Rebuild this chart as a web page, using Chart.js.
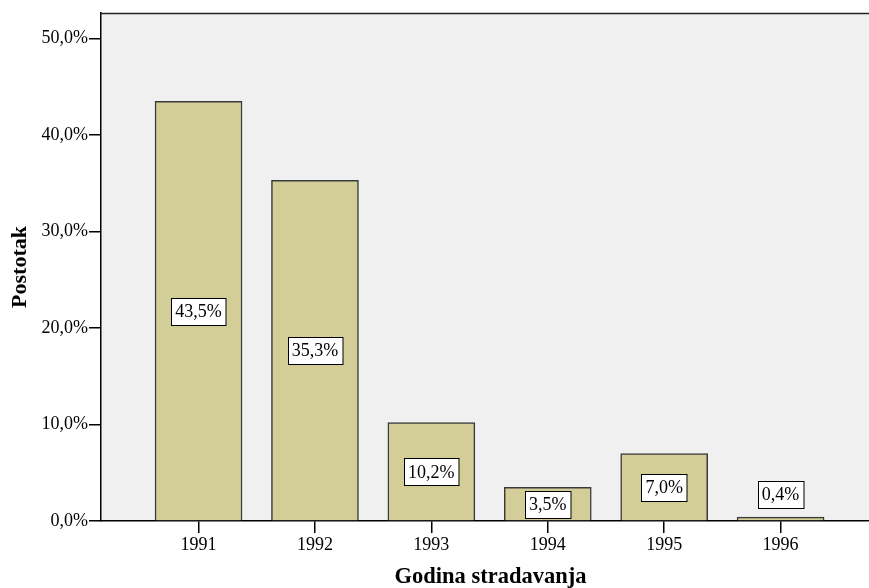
<!DOCTYPE html>
<html>
<head>
<meta charset="utf-8">
<script src="https://cdn.jsdelivr.net/npm/chart.js@4/dist/chart.umd.min.js"></script>
<style>
  html, body { margin: 0; padding: 0; background: #fff; overflow: hidden; }
  #wrap { width: 880px; height: 588px; }
</style>
</head>
<body>
<div id="wrap"><canvas id="chart"></canvas></div>
<script>
// --- Data ---
const godine = [1991, 1992, 1993, 1994, 1995, 1996];
const postotak = [43.5, 35.3, 10.2, 3.5, 7.0, 0.4];
const yTicks = [0, 10, 20, 30, 40, 50];

const SERIF = '"Liberation Serif", "DejaVu Serif", serif';

function fmt(v) {
    return v.toFixed(1).replace('.', ',') + '%';
}

// pozadina i okvir plota
const plotBox = {
    id: 'plotBox',
    beforeDraw(chart) {
        const { ctx, chartArea: a } = chart;
        ctx.save();
        ctx.fillStyle = '#f0f0f0';
        ctx.fillRect(a.left, a.top, a.right - a.left, a.bottom - a.top);
        ctx.restore();
    },
    afterDraw(chart) {
        const { ctx, chartArea: a } = chart;
        ctx.save();
        ctx.strokeStyle = '#222';
        ctx.lineWidth = 1.5;
        ctx.beginPath();
        ctx.moveTo(a.left, a.top + 0.5);
        ctx.lineTo(a.right, a.top + 0.5);
        ctx.stroke();
        ctx.restore();
    }
};

// oznake vrijednosti u bijelim kutijama
const valueLabels = {
    id: 'valueLabels',
    afterDatasetsDraw(chart) {
        const { ctx } = chart;
        const y = chart.scales.y;
        const meta = chart.getDatasetMeta(0);
        ctx.save();
        ctx.font = '18px ' + SERIF;
        ctx.textAlign = 'center';
        ctx.textBaseline = 'middle';
        meta.data.forEach((bar, i) => {
            const v = postotak[i];
            const txt = fmt(v);
            const base = y.getPixelForValue(0);
            const top = y.getPixelForValue(v);
            let cy = y.getPixelForValue(v / 2);
            if (base - top < 30) cy = top - 22.5;
            const w = ctx.measureText(txt).width + 8;
            const h = 27;
            const x0 = Math.round(bar.x - w / 2) + 0.5;
            const y0 = Math.round(cy - h / 2) + 0.5;
            ctx.fillStyle = '#fff';
            ctx.fillRect(x0, y0, w, h);
            ctx.strokeStyle = '#000';
            ctx.lineWidth = 1;
            ctx.strokeRect(x0, y0, w, h);
            ctx.fillStyle = '#000';
            ctx.fillText(txt, bar.x, cy + 1);
        });
        ctx.restore();
    }
};

new Chart(document.getElementById('chart'), {
    type: 'bar',
    data: {
        datasets: [{
            data: godine.map((g, i) => ({ x: g, y: postotak[i] })),
            backgroundColor: '#d3ce98',
            borderColor: '#3a3a3a',
            borderWidth: 1.5,
            borderSkipped: 'bottom',
            barThickness: 87
        }]
    },
    options: {
        responsive: true,
        maintainAspectRatio: false,
        animation: false,
        layout: { padding: { top: 13, right: 0, left: 0, bottom: 0 } },
        plugins: {
            legend: { display: false },
            tooltip: { enabled: false }
        },
        scales: {
            x: {
                type: 'linear',
                offset: false,
                min: 1990.162,
                max: 1996.854,
                afterFit(s) { s.height = 67; },
                afterBuildTicks(s) { s.ticks = godine.map(v => ({ value: v })); },
                ticks: {
                    color: '#000',
                    font: { family: SERIF, size: 18 },
                    padding: 1,
                    maxRotation: 0,
                    callback: v => String(v)
                },
                grid: { offset: false, drawOnChartArea: false, tickLength: 12, color: '#000', lineWidth: 1.5 },
                border: { display: true, color: '#000', width: 1.5 },
                title: {
                    display: true,
                    text: 'Godina stradavanja',
                    color: '#000',
                    font: { family: SERIF, size: 22.5, weight: 'bold', lineHeight: 1 },
                    padding: 0
                }
            },
            y: {
                min: 0,
                max: 52.65,
                afterFit(s) { s.width = 101; },
                afterBuildTicks(s) { s.ticks = yTicks.map(v => ({ value: v })); },
                ticks: {
                    color: '#000',
                    font: { family: SERIF, size: 18 },
                    padding: 1,
                    callback: v => fmt(v)
                },
                grid: { drawOnChartArea: false, tickLength: 12, color: '#000', lineWidth: 1.5 },
                border: { display: true, color: '#000', width: 1.5 },
                title: {
                    display: true,
                    text: 'Postotak',
                    color: '#000',
                    font: { family: SERIF, size: 22, weight: 'bold', lineHeight: 1 },
                    padding: { top: 9, bottom: 0 }
                }
            }
        }
    },
    plugins: [plotBox, valueLabels]
});
</script>
</body>
</html>
